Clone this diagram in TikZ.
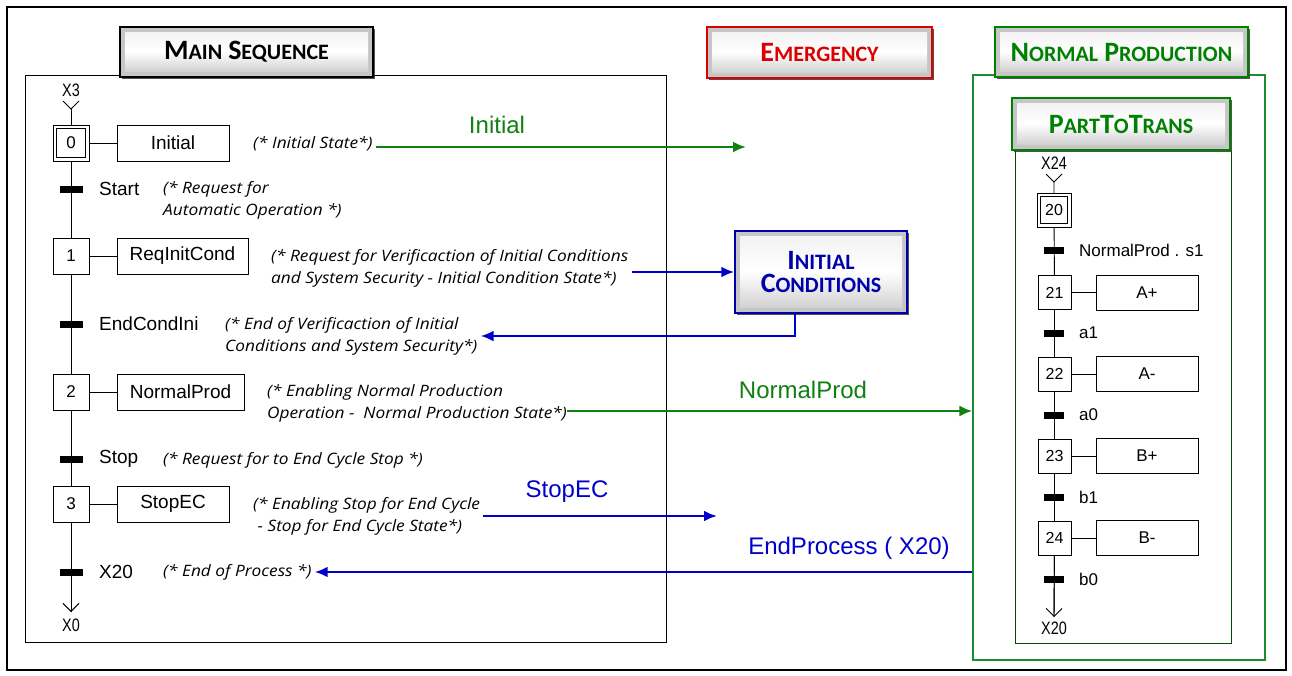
\documentclass[tikz,border=0pt]{standalone}
\usepackage{fontspec}
\setmainfont{Liberation Sans}
\newfontfamily\titlefont{Carlito}
\newfontfamily\cmtfont{Open Sans}[FakeStretch=1.1]
\newfontfamily\narrowfont{Liberation Sans}[FakeStretch=0.8]
\usetikzlibrary{arrows.meta,shadows}
\definecolor{gline}{RGB}{16,128,16}
\definecolor{bline}{RGB}{0,0,205}
\definecolor{rtitle}{RGB}{220,0,0}
\definecolor{gtitle}{RGB}{0,128,0}
\definecolor{btitle}{RGB}{0,0,170}
\definecolor{gframe}{RGB}{30,140,50}
% fake small caps for the title buttons
\newcommand\tsc[2]{{\fontsize{28}{28}\selectfont #1}{\fontsize{22}{22}\selectfont #2}}
\newcommand\tspace{\hspace{6pt}}
\tikzset{
  titlebox/.style={draw=#1, line width=1.4pt, inner sep=0pt, align=center,
    font=\titlefont\bfseries, text=#1,
    drop shadow={shadow xshift=2pt, shadow yshift=-2pt, fill=black!75, opacity=0.9},
    path picture={
      \fill[gray!45] (path picture bounding box.south west) rectangle (path picture bounding box.north east);
      \shade[top color=gray!10, bottom color=gray!35, middle color=white]
        ([shift={(5,-6)}]path picture bounding box.south west) rectangle
        ([shift={(-5,5)}]path picture bounding box.north east);
    }},
  stepbox/.style={draw, fill=white, minimum width=36pt, minimum height=36pt, inner sep=0pt,
    font=\fontsize{17}{17}\selectfont},
  rstepbox/.style={draw, fill=white, minimum width=33pt, minimum height=34pt, inner sep=0pt,
    font=\fontsize{16}{16}\selectfont},
  actbox/.style={draw, fill=white, minimum height=36pt, inner sep=0pt,
    font=\fontsize{19}{19}\selectfont},
  ractbox/.style={draw, fill=white, minimum width=102pt, minimum height=35pt, inner sep=0pt,
    font=\fontsize{17}{17}\selectfont},
  trbar/.style={fill=black, minimum width=23pt, minimum height=7pt, inner sep=0pt},
  rtrbar/.style={fill=black, minimum width=20pt, minimum height=7pt, inner sep=0pt},
  trlabel/.style={anchor=west, inner sep=0pt, font=\fontsize{19}{19}\selectfont},
  rtrlabel/.style={anchor=west, inner sep=0pt, font=\fontsize{17}{17}\selectfont},
  xlabel/.style={inner sep=0pt, font=\narrowfont\fontsize{18}{18}\selectfont},
  cmt/.style={anchor=west, align=left, inner sep=3pt, font=\cmtfont\itshape\fontsize{15.7}{22}\selectfont},
  flow/.style={line width=0.9pt},
  garrow/.style={draw=gline, line width=2.8pt, -{Latex[length=13pt,width=11pt]}},
  barrow/.style={draw=bline, line width=2.8pt, -{Latex[length=13pt,width=11pt]}},
  arrlabel/.style={inner sep=0pt, font=\fontsize{24}{24}\selectfont},
}
\begin{document}
\begin{tikzpicture}[x=1pt,y=-1pt]
\useasboundingbox (0,0) rectangle (1292,675);
\fill[white] (0,0) rectangle (1292,675);
% outer border
\draw[line width=2pt] (7,7) rectangle (1286,670);

% ---------------- frames ----------------
\draw[line width=1pt] (25,75) rectangle (666,642);
\node[draw=gframe, line width=1.2pt, minimum width=292pt, minimum height=585pt, inner sep=0pt] (npframe) at (1119,367.5) {};
\draw[draw=black!70!green, line width=0.9pt] (1015,150) rectangle (1231,643);

% ---------------- title buttons ----------------
\node[titlebox=black, minimum width=253pt, minimum height=50pt] (tmain) at (246.5,52) {\tsc{M}{AIN}\tspace\tsc{S}{EQUENCE}};
\node[titlebox=rtitle, minimum width=225pt, minimum height=51pt] (temg) at (819.5,52.5) {\tsc{E}{MERGENCY}};
\node[titlebox=gtitle, minimum width=253pt, minimum height=50pt] (tnp) at (1121.5,52) {\tsc{N}{ORMAL}\tspace\tsc{P}{RODUCTION}};
\node[titlebox=gtitle, minimum width=218pt, minimum height=52pt] (tpt) at (1121,124) {\tsc{P}{ART}\tsc{T}{O}\tsc{T}{RANS}};
\node[titlebox=btitle, minimum width=172pt, minimum height=82pt] (ic) at (821,272) {\tsc{I}{NITIAL}\\[4pt]\tsc{C}{ONDITIONS}};

% ---------------- main sequence ----------------
\coordinate (in0) at (71,109);
\coordinate (out0) at (71,612);
\node[xlabel] (lx3) at (71,90) {X3};
\node[xlabel] (lx0) at (71,625) {X0};
\node[stepbox] (s0) at (71,143) {0};
\node[stepbox] (s1) at (71,256) {1};
\node[stepbox] (s2) at (71,392) {2};
\node[stepbox] (s3) at (71,504) {3};
\node[trbar] (t0) at (71,189) {};
\node[trbar] (t1) at (71,324) {};
\node[trbar] (t2) at (71,459) {};
\node[trbar] (t3) at (71,572) {};
\draw[flow] (in0) -- (s0) -- (s1) -- (s2) -- (s3) -- (out0);
\draw[flow, -{Straight Barb[length=8pt,width=16pt]}] (t3) -- (out0);
\draw[flow] ([shift={(-8,-8)}]in0) -- (in0) -- ([shift={(8,-8)}]in0);
\foreach \b in {t0,t1,t2,t3} \node[trbar] at (\b) {};
% inner frame of the initial step
\draw[line width=0.8pt] ([shift={(4,-4)}]s0.south west) rectangle ([shift={(-4,4)}]s0.north east);

\node[actbox, minimum width=112pt] (a0) at (173,143) {Initial};
\node[actbox, minimum width=131pt] (a1) at (182.5,256) {ReqInitCond};
\node[actbox, minimum width=127pt] (a2) at (180.5,392) {NormalProd};
\node[actbox, minimum width=112pt] (a3) at (173,504) {StopEC};
\draw[flow] (s0) -- (a0);
\draw[flow] (s1) -- (a1);
\draw[flow] (s2) -- (a2);
\draw[flow] (s3) -- (a3);

\node[trlabel] (l0) at (99,189) {Start};
\node[trlabel] (l1) at (99,324) {EndCondIni};
\node[trlabel] (l2) at (99,459) {Stop};
\node[trlabel] (l3) at (99,572) {X20};

% comments
\node[cmt] (c0) at (250,144) {(* Initial State*)};
\node[cmt] (cs) at (160,200) {(* Request for\\Automatic Operation *)};
\node[cmt] (c1) at (268,268) {(* Request for Verificaction of Initial Conditions\\and System Security - Initial Condition State*)};
\node[cmt] (c2) at (222,336) {(* End of Verificaction of Initial\\Conditions and System Security*)};
\node[cmt] (c3) at (264,403) {(* Enabling Normal Production\\Operation -\ \ Normal Production State*)};
\node[cmt] (cst) at (160,460) {(* Request for to End Cycle Stop *)};
\node[cmt] (c4) at (250,516) {(* Enabling Stop for End Cycle\\\ - Stop for End Cycle State*)};
\node[cmt] (c5) at (160,572) {(* End of Process *)};

% ---------------- signals between the charts ----------------
\coordinate (iniEnd) at (746,147);
\draw[garrow] (c0.east |- iniEnd) -- (iniEnd);
\node[arrlabel, text=gline] (lini) at (497,125) {Initial};

\draw[barrow] (c1.east |- ic.west) -- (ic.west);
\draw[barrow] ([xshift=-26pt]ic.south) |- (c2.east);

\coordinate (npStart) at (567,411);
\draw[garrow] (npStart) -- (npStart -| npframe.west);
\node[arrlabel, text=gline] (lnp) at (803,390) {NormalProd};

\coordinate (stEnd) at (717,516);
\draw[barrow] (c4.east |- stEnd) -- (stEnd);
\node[arrlabel, text=bline] (lst) at (567,492) {StopEC};

\draw[barrow] (npframe.west |- c5.east) -- (c5.east);
\node[arrlabel, text=bline] (lep) at (849,548) {EndProcess ( X20)};

% ---------------- PartToTrans chart ----------------
\coordinate (in20) at (1054,182);
\coordinate (out20) at (1054,617);
\node[xlabel] (lx24) at (1054,163) {X24};
\node[xlabel] (lx20) at (1054,628) {X20};
\node[rstepbox, minimum width=34pt] (r20) at (1054,210) {20};
\node[rstepbox] (r21) at (1054.5,292.5) {21};
\node[rstepbox] (r22) at (1054.5,374) {22};
\node[rstepbox] (r23) at (1054.5,456) {23};
\node[rstepbox] (r24) at (1054.5,538) {24};
\draw[flow] (in20) -- (r20) -- (r21) -- (r22) -- (r23) -- (r24) -- (out20);
\draw[flow] ([shift={(-8,-8)}]in20) -- (in20) -- ([shift={(8,-8)}]in20);
\draw[flow, -{Straight Barb[length=8pt,width=16pt]}] (r24) -- (out20);
\draw[line width=0.8pt] ([shift={(4,-4)}]r20.south west) rectangle ([shift={(-4,4)}]r20.north east);
\node[rtrbar] (rt0) at (1054,250) {};
\node[rtrbar] (rt1) at (1054,333) {};
\node[rtrbar] (rt2) at (1054,415) {};
\node[rtrbar] (rt3) at (1054,497) {};
\node[rtrbar] (rt4) at (1054,579) {};
\node[rtrlabel] (rl0) at (1079,250) {NormalProd . s1};
\node[rtrlabel] (rl1) at (1079,333) {a1};
\node[rtrlabel] (rl2) at (1079,415) {a0};
\node[rtrlabel] (rl3) at (1079,497) {b1};
\node[rtrlabel] (rl4) at (1079,579) {b0};
\node[ractbox] (ra1) at (1147,292.5) {A+};
\node[ractbox] (ra2) at (1147,374) {A-};
\node[ractbox] (ra3) at (1147,456) {B+};
\node[ractbox] (ra4) at (1147,538) {B-};
\draw[flow] (r21) -- (ra1);
\draw[flow] (r22) -- (ra2);
\draw[flow] (r23) -- (ra3);
\draw[flow] (r24) -- (ra4);
\end{tikzpicture}
\end{document}
